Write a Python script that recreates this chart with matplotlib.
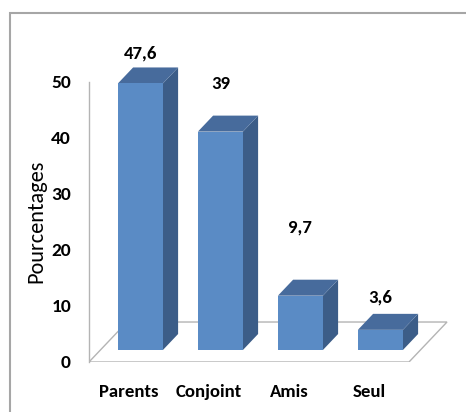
import matplotlib
matplotlib.use('Agg')
import matplotlib.pyplot as plt
from matplotlib.patches import Polygon, Rectangle

# data
categories = ['Parents', 'Conjoint', 'Amis', 'Seul']
values = [47.6, 39, 9.7, 3.6]
value_labels = ['47,6', '39', '9,7', '3,6']
yticks = [0, 10, 20, 30, 40, 50]

# fake 3D (oblique projection) settings
DX = 0.475   # x shift at full depth, category units
DY = 7.14    # y shift at full depth, value units
bar_w = 0.5625
d0, d1 = 0.3, 0.7
label_lift = [5.4, 8.5, 12.2, 5.7]

c_front = '#5A8BC5'
c_top = '#476B9C'
c_side = '#3C5D88'
c_grid = '#B4B4B4'

font = ['Carlito', 'DejaVu Sans']


def proj(x, y, d):
    return (x + d * DX, y + d * DY)


fig = plt.figure(figsize=(4.66, 4.12), dpi=100)
ax = fig.add_axes([89 / 466, 50 / 412, 360 / 466, 313.6 / 412])
ax.set_xlim(-0.5, 4.0)
ax.set_ylim(0, 56)

# floor
n = len(categories)
floor = [proj(-0.5, 0, 0), proj(n - 0.5, 0, 0), proj(n - 0.5, 0, 1), proj(-0.5, 0, 1)]
ax.add_patch(Polygon(floor, closed=True, fill=False, edgecolor=c_grid, lw=1, zorder=1))

# bars
for i, v in enumerate(values):
    x0, x1 = i - bar_w / 2, i + bar_w / 2
    front = [proj(x0, 0, d0), proj(x1, 0, d0), proj(x1, v, d0), proj(x0, v, d0)]
    side = [proj(x1, 0, d0), proj(x1, 0, d1), proj(x1, v, d1), proj(x1, v, d0)]
    top = [proj(x0, v, d0), proj(x1, v, d0), proj(x1, v, d1), proj(x0, v, d1)]
    ax.add_patch(Polygon(side, closed=True, facecolor=c_side, edgecolor='none', zorder=3))
    ax.add_patch(Polygon(top, closed=True, facecolor=c_top, edgecolor='none', zorder=3))
    ax.add_patch(Polygon(front, closed=True, facecolor=c_front, edgecolor='none', zorder=4))
    lx, ly = proj(i, v, d0)
    ax.text(lx, ly + label_lift[i], value_labels[i], ha='center', va='center',
            fontsize=13.5, fontweight='bold', family=font, clip_on=False)

# axes
for s in ['top', 'right', 'bottom']:
    ax.spines[s].set_visible(False)
ax.spines['left'].set_bounds(0, 50)
ax.spines['left'].set_color(c_grid)
ax.spines['left'].set_linewidth(1)

ax.set_yticks(yticks)
ax.set_yticklabels([str(t) for t in yticks], fontsize=14, fontweight='bold', family=font)
ax.set_xticks(range(n))
ax.set_xticklabels(categories, fontsize=13.5, fontweight='bold', family=font)
ax.tick_params(axis='y', length=0, pad=13)
ax.tick_params(axis='x', length=0, pad=16)

ax.text(-0.145, 0.45, 'Pourcentages', transform=ax.transAxes, rotation=90,
        ha='center', va='center', fontsize=16, family=font)

# outer frame
fig.add_artist(Rectangle((10 / 466, -0.5), 2, 1.5 - 13 / 412, transform=fig.transFigure,
                         fill=False, edgecolor='#A6A6A6', lw=1.5))

fig.savefig('out.png', dpi=100)
